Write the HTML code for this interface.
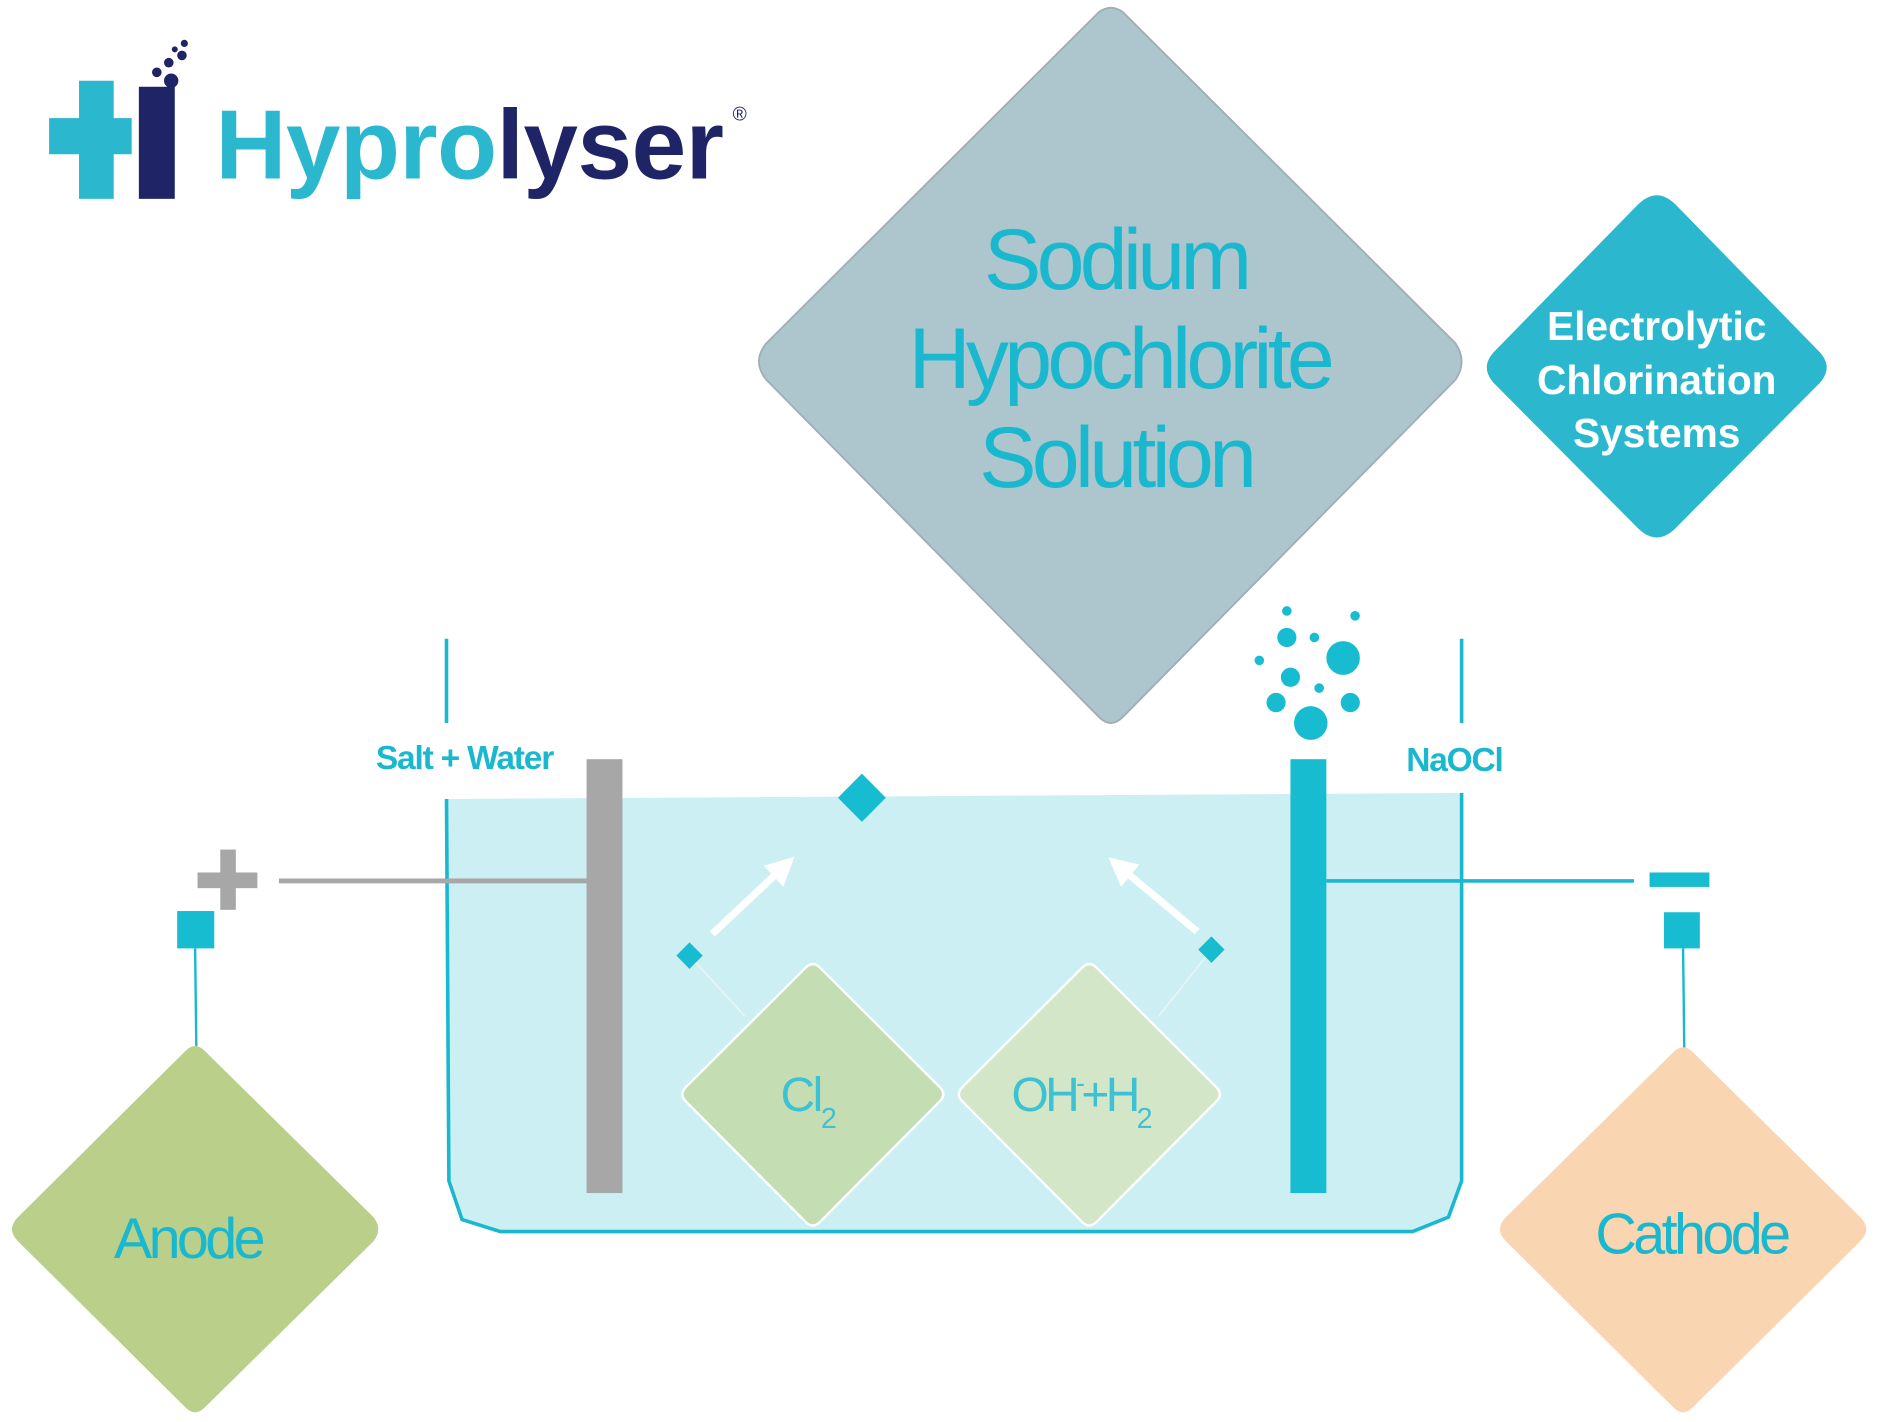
<!DOCTYPE html>
<html><head><meta charset="utf-8"><style>
html,body{margin:0;padding:0;background:#fff;}
svg{display:block;}
text{font-family:"Liberation Sans",sans-serif;}
</style></head><body>
<svg width="1877" height="1422" viewBox="0 0 1568 1180" preserveAspectRatio="none" xmlns="http://www.w3.org/2000/svg">
<defs>
<marker id="ah" viewBox="0 0 10 10" refX="5" refY="5" markerWidth="4" markerHeight="4" orient="auto"><path d="M0,0 L10,5 L0,10 z" fill="#fff"/></marker>
</defs>
<!-- logo -->
<rect x="66" y="67" width="29" height="98" fill="#2bb8cf"/>
<rect x="41" y="98" width="69" height="30" fill="#2bb8cf"/>
<rect x="116" y="72" width="30" height="93" fill="#1f2466"/>
<circle cx="143" cy="67" r="6" fill="#1f2466"/>
<circle cx="131" cy="60" r="4" fill="#1f2466"/>
<circle cx="141" cy="52" r="4" fill="#1f2466"/>
<circle cx="152" cy="46" r="4" fill="#1f2466"/>
<circle cx="154" cy="36" r="3" fill="#1f2466"/>
<circle cx="146" cy="41" r="2.5" fill="#1f2466"/>
<text x="180" y="148" font-size="82" font-weight="bold" letter-spacing="-0.4"><tspan fill="#2bb8cf">Hypro</tspan><tspan fill="#1f2466">lyser</tspan></text>
<text x="612" y="100" font-size="16" fill="#1f2466">®</text>

<!-- big diamond -->
<path d="M918,10 Q928,3 938,10 L1216,285 Q1226,300 1216,315 L938,595 Q928,605 918,595 L640,315 Q628,300 640,285 Z" fill="#adc6cd" stroke="#a0aeb2" stroke-width="1.5"/>
<g fill="#1ab8cf" font-size="72" text-anchor="middle" letter-spacing="-4">
<text x="932" y="240">Sodium</text>
<text x="935" y="322">Hypochlorite</text>
<text x="932" y="404">Solution</text>
</g>
<!-- electrolytic diamond -->
<path d="M1368,170 Q1384,154 1400,170 L1518,290 Q1534,305 1518,320 L1400,438 Q1384,454 1368,438 L1250,320 Q1234,305 1250,290 Z" fill="#2bb8cf"/>
<g fill="#fff" font-size="34" font-weight="bold" text-anchor="middle">
<text x="1384" y="282">Electrolytic</text>
<text x="1384" y="327">Chlorination</text>
<text x="1384" y="371">Systems</text>
</g>

<!-- tank -->
<path d="M373,663 L1221,658 L1221,980 L1210,1010 L1180,1022 L418,1022 L386,1012 L375,980 Z" fill="#cbeff3"/>
<path d="M373,663 L375,980 L386,1012 L418,1022 L1180,1022 L1210,1010 L1221,980 L1221,658" fill="none" stroke="#1ab8cf" stroke-width="3"/>
<line x1="373" y1="530" x2="373" y2="600" stroke="#1ab8cf" stroke-width="3"/>
<line x1="1221" y1="530" x2="1221" y2="600" stroke="#1ab8cf" stroke-width="3"/>
<text x="388" y="638" font-size="28" font-weight="bold" fill="#1ab8cf" text-anchor="middle" letter-spacing="-1">Salt + Water</text>
<text x="1215" y="640" font-size="28" font-weight="bold" fill="#1ab8cf" text-anchor="middle" letter-spacing="-1">NaOCl</text>

<!-- rods & wires -->
<line x1="233" y1="731" x2="490" y2="731" stroke="#a7a7a7" stroke-width="4"/>
<line x1="1108" y1="731" x2="1365" y2="731" stroke="#1ab8cf" stroke-width="3"/>
<rect x="490" y="630" width="30" height="360" fill="#a7a7a7"/>
<rect x="1078" y="630" width="30" height="360" fill="#17bcd1"/>
<rect x="165" y="724" width="50" height="13" fill="#a7a7a7"/>
<rect x="184" y="705" width="13" height="50" fill="#a7a7a7"/>
<rect x="1378" y="724" width="50" height="12" fill="#17bcd1"/>
<rect x="148" y="756" width="31" height="31" fill="#17bcd1"/>
<rect x="1390" y="757" width="30" height="30" fill="#17bcd1"/>
<line x1="163" y1="787" x2="164" y2="868" stroke="#1ab8cf" stroke-width="2"/>
<line x1="1406" y1="787" x2="1407" y2="870" stroke="#1ab8cf" stroke-width="2"/>

<!-- bubbles -->
<g fill="#17bcd1">
<circle cx="1075" cy="507" r="4"/><circle cx="1132" cy="511" r="4"/>
<circle cx="1075" cy="529" r="8"/><circle cx="1098" cy="529" r="4"/>
<circle cx="1122" cy="546" r="14"/><circle cx="1052" cy="548" r="4"/>
<circle cx="1078" cy="562" r="8"/><circle cx="1102" cy="571" r="4"/>
<circle cx="1066" cy="583" r="8"/><circle cx="1128" cy="583" r="8"/>
<circle cx="1095" cy="600" r="14"/>
</g>

<!-- anode/cathode diamonds -->
<path d="M155,872 Q163,864 171,872 L312,1010 Q320,1020 312,1030 L171,1168 Q163,1176 155,1168 L15,1030 Q5,1020 15,1010 Z" fill="#bacf8a"/>
<text x="157" y="1044" font-size="48" fill="#1ab8cf" text-anchor="middle" letter-spacing="-3">Anode</text>
<path d="M1398,873 Q1406,865 1414,873 L1554,1010 Q1564,1020 1554,1030 L1414,1168 Q1406,1176 1398,1168 L1258,1030 Q1248,1020 1258,1010 Z" fill="#f9d5b1"/>
<text x="1413" y="1040" font-size="48" fill="#1ab8cf" text-anchor="middle" letter-spacing="-3">Cathode</text>

<!-- Cl2 / OH diamonds -->
<line x1="576" y1="793" x2="622" y2="843" stroke="#e6f4f4" stroke-width="1.5"/>
<line x1="1012" y1="788" x2="968" y2="843" stroke="#e6f4f4" stroke-width="1.5"/>
<path d="M673,803 Q679,797 685,803 L785,902 Q791,908 785,914 L685,1014 Q679,1020 673,1014 L573,914 Q567,908 573,902 Z" fill="#c5ddb3" stroke="#fff" stroke-width="2"/>
<path d="M904,803 Q910,797 916,803 L1016,902 Q1022,908 1016,914 L916,1014 Q910,1020 904,1014 L804,914 Q798,908 804,902 Z" fill="#d3e6c8" stroke="#fff" stroke-width="2"/>
<text x="652" y="922" font-size="40" fill="#3cc2d2" letter-spacing="-2">Cl<tspan font-size="24" dy="14">2</tspan></text>
<text x="845" y="922" font-size="40" fill="#3cc2d2" letter-spacing="-3">OH<tspan font-size="22" dy="-16">-</tspan><tspan dy="16">+H</tspan><tspan font-size="24" dy="14">2</tspan></text>

<!-- small diamonds -->
<path d="M720,642 L740,662 L720,682 L700,662 Z" fill="#17bcd1"/>
<path d="M576,782 L587,793 L576,804 L565,793 Z" fill="#17bcd1"/>
<path d="M1012,777 L1023,788 L1012,799 L1001,788 Z" fill="#17bcd1"/>

<!-- arrows -->
<line x1="595" y1="775" x2="655" y2="719" stroke="#fff" stroke-width="6" marker-end="url(#ah)"/>
<line x1="1000" y1="773" x2="935" y2="719" stroke="#fff" stroke-width="6" marker-end="url(#ah)"/>
</svg>
</body></html>
